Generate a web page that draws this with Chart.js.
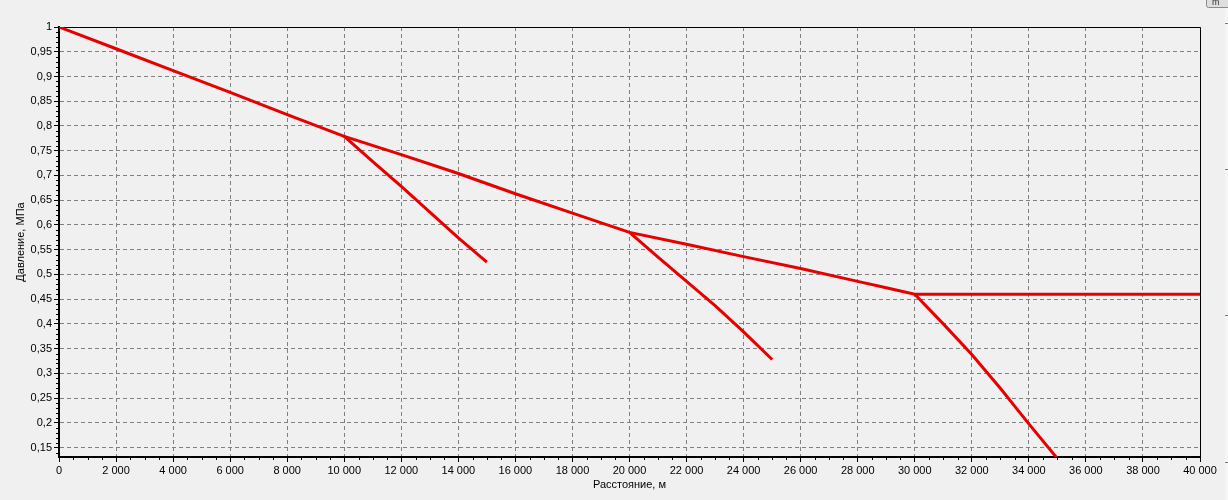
<!DOCTYPE html>
<html>
<head>
<meta charset="utf-8">
<script src="https://cdn.jsdelivr.net/npm/chart.js@4.4.1/dist/chart.umd.min.js"></script>
<style>
  html, body { margin: 0; padding: 0; background: #f0f0f0; }
  #wrap { width: 1228px; height: 500px; }
</style>
</head>
<body>
<div id="wrap"><canvas id="chart" width="1228" height="500"></canvas></div>
<script>
// tick labels
const xTicks = [0, 2000, 4000, 6000, 8000, 10000, 12000, 14000, 16000, 18000, 20000,
  22000, 24000, 26000, 28000, 30000, 32000, 34000, 36000, 38000, 40000]
const yTicks = [0.15, 0.2, 0.25, 0.3, 0.35, 0.4, 0.45, 0.5, 0.55, 0.6, 0.65, 0.7,
  0.75, 0.8, 0.85, 0.9, 0.95, 1]

// main pipe
const mainDist = [0, 2000, 4000, 6000, 8000, 10000, 12000, 14000, 16000, 18000, 20000,
  22000, 24000, 26000, 28000, 29000, 30000, 40000]
const mainPressure = [1, 0.956, 0.912, 0.868, 0.823, 0.779, 0.742, 0.704, 0.663, 0.624, 0.585,
  0.561, 0.536, 0.512, 0.486, 0.473, 0.46, 0.46]

// branches
const branch1Dist = [10000, 11000, 12000, 13000, 14000, 15000]
const branch1Pressure = [0.779, 0.728, 0.678, 0.626, 0.574, 0.525]
const branch2Dist = [20000, 21000, 22000, 23000, 24000, 25000]
const branch2Pressure = [0.585, 0.535, 0.486, 0.437, 0.384, 0.328]
const branch3Dist = [30000, 31000, 32000, 33000, 34000, 35000]
const branch3Pressure = [0.46, 0.4, 0.338, 0.27, 0.198, 0.128]

const RED = '#e60000'
const FONT = { family: 'Liberation Sans', size: 11 }

const toPoints = (xs, ys) => xs.map((x, i) => ({ x: x, y: ys[i] }))
const line = (xs, ys) => ({
  data: toPoints(xs, ys),
  showLine: true,
  borderColor: RED,
  borderWidth: 3,
  pointRadius: 0,
  tension: 0
})

const fmtDist = (v) => String(v).replace(/\B(?=(\d{3})+(?!\d))/g, ' ')
const fmtPressure = (v) => String(Math.round(v * 100) / 100).replace('.', ',')

// frame top/right, minor ticks, right-hand strip
const extras = {
  id: 'extras',
  beforeDatasetsDraw(chart) {
    const { ctx, chartArea: a, scales: { x, y } } = chart
    ctx.save()
    ctx.strokeStyle = '#000'
    ctx.lineWidth = 1
    ctx.beginPath()
    ctx.moveTo(a.left, a.top + 0.5)
    ctx.lineTo(a.right + 0.5, a.top + 0.5)
    ctx.lineTo(a.right + 0.5, a.bottom)
    ctx.stroke()

    ctx.beginPath()
    for (let v = 500; v < 40000; v += 500) {
      if (v % 2000 === 0) continue
      const px = Math.round(x.getPixelForValue(v)) + 0.5
      ctx.moveTo(px, a.bottom)
      ctx.lineTo(px, a.bottom + 3)
    }
    for (let i = 14; i < 100; i++) {
      if (i % 5 === 0) continue
      const py = Math.round(y.getPixelForValue(i / 100)) + 0.5
      ctx.moveTo(a.left - 3, py)
      ctx.lineTo(a.left, py)
    }
    ctx.stroke()
    ctx.restore()
  },
  afterDraw(chart) {
    const ctx = chart.ctx
    ctx.save()
    ctx.fillStyle = '#f5f5f5'
    ctx.fillRect(1225, 0, 3, 500)
    ctx.strokeStyle = '#7a7a7a'
    ctx.lineWidth = 1
    ctx.beginPath()
    for (const ty of [23, 169, 315, 462]) {
      ctx.moveTo(1225, ty + 0.5)
      ctx.lineTo(1228, ty + 0.5)
    }
    ctx.stroke()
    ctx.fillStyle = '#dedede'
    ctx.strokeStyle = '#8c8c8c'
    ctx.beginPath()
    ctx.roundRect(1206.5, -4.5, 30, 12, 2)
    ctx.fill()
    ctx.stroke()
    ctx.fillStyle = '#333'
    ctx.font = '9px "Liberation Sans"'
    ctx.fillText('m', 1212, 5)
    ctx.restore()
  }
}

new Chart(document.getElementById('chart'), {
  type: 'scatter',
  data: {
    datasets: [
      line(mainDist, mainPressure),
      line(branch1Dist, branch1Pressure),
      line(branch2Dist, branch2Pressure),
      line(branch3Dist, branch3Pressure)
    ]
  },
  options: {
    responsive: false,
    animation: false,
    layout: { padding: { top: 27, right: 28, left: 0, bottom: 0 } },
    plugins: {
      legend: { display: false },
      tooltip: { enabled: false }
    },
    scales: {
      x: {
        type: 'linear',
        min: 0,
        max: 40000,
        afterBuildTicks: (s) => { s.ticks = xTicks.map(v => ({ value: v })) },
        afterFit: (s) => { s.height = 43 },
        ticks: { callback: fmtDist, color: '#000', font: FONT, padding: 2, maxRotation: 0, autoSkip: false },
        grid: { color: '#808080', tickColor: '#000', tickLength: 5 },
        border: { color: '#000', width: 2, dash: [4, 3] },
        title: { display: true, text: 'Расстояние, м', color: '#000', font: FONT, padding: { top: 0, bottom: 8 } }
      },
      y: {
        min: 0.131,
        max: 1,
        afterBuildTicks: (s) => { s.ticks = yTicks.map(v => ({ value: v })) },
        afterFit: (s) => { s.width = 59 },
        ticks: { callback: fmtPressure, color: '#000', font: FONT, padding: 2, autoSkip: false },
        grid: { color: '#808080', tickColor: '#000', tickLength: 5 },
        border: { color: '#000', width: 2, dash: [4, 3] },
        title: { display: true, text: 'Давление, МПа', color: '#000', font: FONT, padding: { top: 14, bottom: 0 } }
      }
    }
  },
  plugins: [extras]
})
</script>
</body>
</html>
